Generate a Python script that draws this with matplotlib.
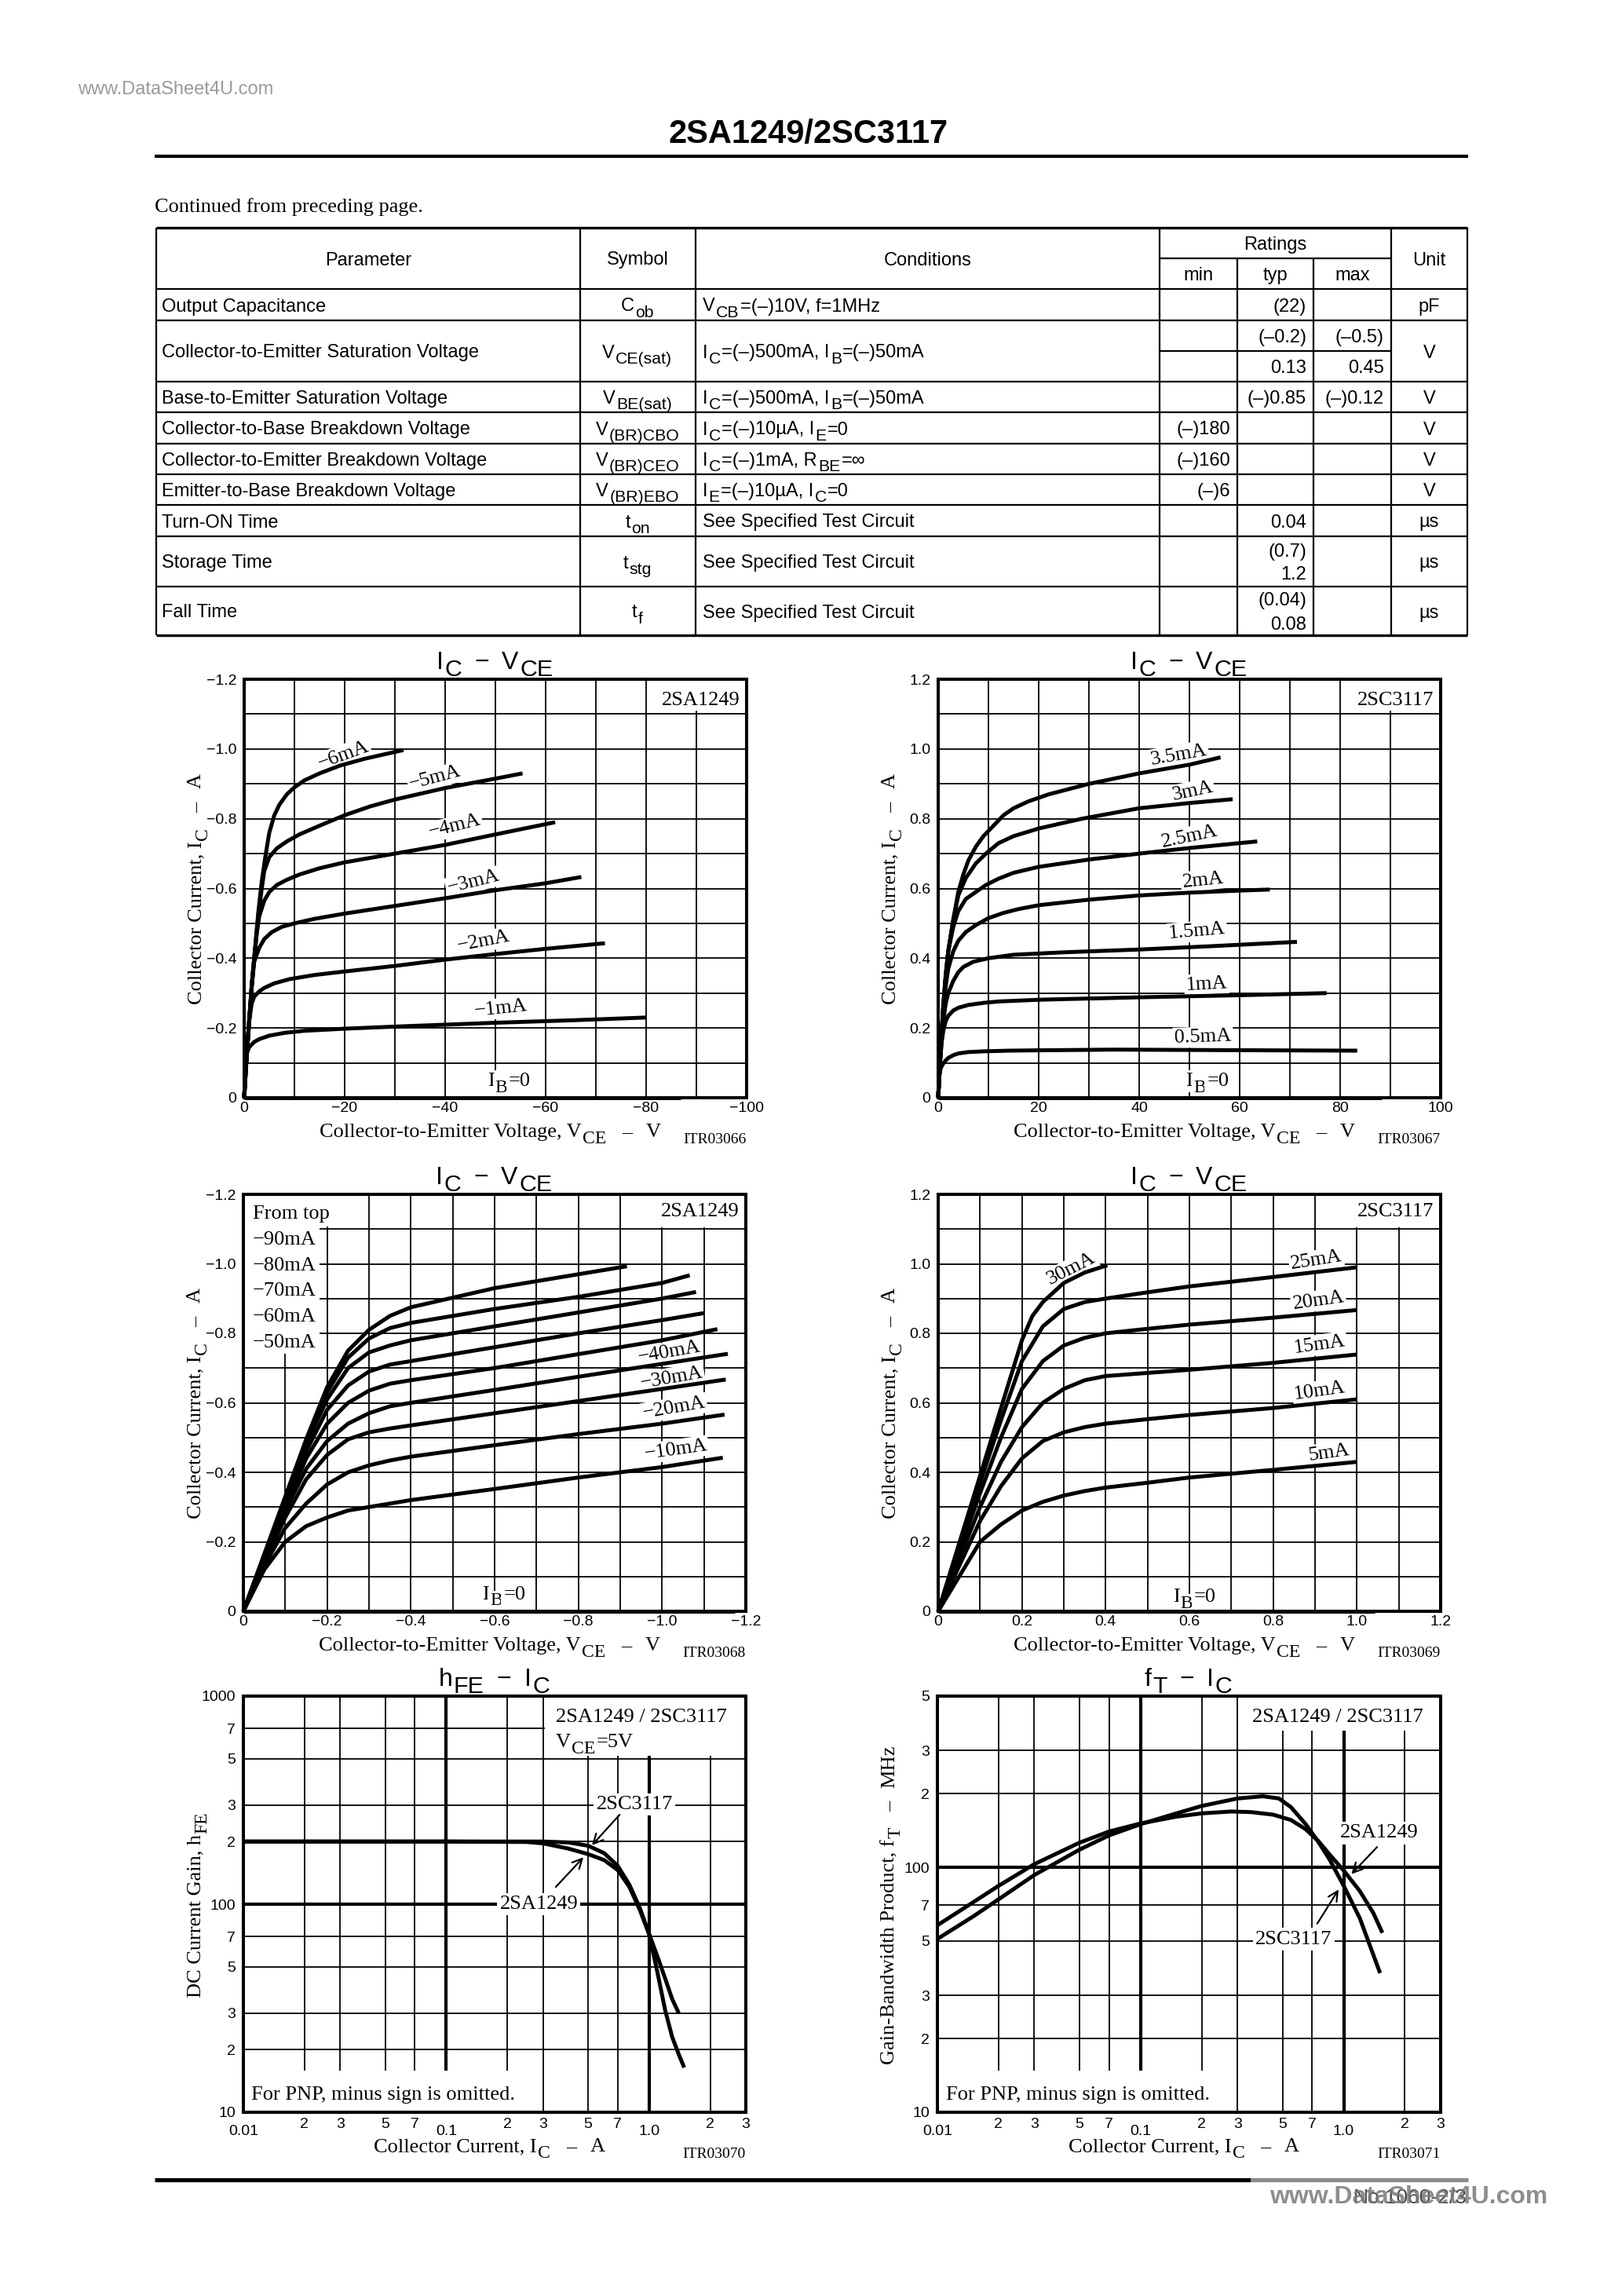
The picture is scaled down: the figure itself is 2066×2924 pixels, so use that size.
import matplotlib
matplotlib.use("Agg")
import matplotlib.pyplot as plt
import matplotlib.transforms as mtrans
from matplotlib.lines import Line2D
from matplotlib.patches import Rectangle

W, H = 2066, 2924
SANS = ["Liberation Sans", "DejaVu Sans"]
SERIF = ["Liberation Serif", "DejaVu Serif"]
plt.rcParams["font.family"] = SANS

# ---------------- table data ----------------
tbl_param = ["Output Capacitance", "Collector-to-Emitter Saturation Voltage",
             "Base-to-Emitter Saturation Voltage", "Collector-to-Base Breakdown Voltage",
             "Collector-to-Emitter Breakdown Voltage", "Emitter-to-Base Breakdown Voltage",
             "Turn-ON Time", "Storage Time", "Fall Time"]
tbl_symbol = [["C", "_ob"], ["V", "_CE(sat)"], ["V", "_BE(sat)"], ["V", "_(BR)CBO"],
              ["V", "_(BR)CEO"], ["V", "_(BR)EBO"], ["t", "_on"], ["t", "_stg"], ["t", "_f"]]
tbl_cond = [["V", "_CB", "=(–)10V, f=1MHz"],
            ["I", "_C", "=(–)500mA, I", "_B", "=(–)50mA"],
            ["I", "_C", "=(–)500mA, I", "_B", "=(–)50mA"],
            ["I", "_C", "=(–)10µA, I", "_E", "=0"],
            ["I", "_C", "=(–)1mA, R", "_BE", "=∞"],
            ["I", "_E", "=(–)10µA, I", "_C", "=0"],
            ["See Specified Test Circuit"], ["See Specified Test Circuit"],
            ["See Specified Test Circuit"]]
tbl_min = ["", "", "", "(–)180", "(–)160", "(–)6", "", "", ""]
tbl_typ = ["(22)", ["(–0.2)", "0.13"], "(–)0.85", "", "", "", "0.04",
           ["(0.7)", "1.2"], ["(0.04)", "0.08"]]
tbl_max = ["", ["(–0.5)", "0.45"], "(–)0.12", "", "", "", "", "", ""]
tbl_unit = ["pF", "V", "V", "V", "V", "V", "µs", "µs", "µs"]

# ---------------- IC-VCE 2SA1249 (large) ----------------
tl_xticks = [0, -10, -20, -30, -40, -50, -60, -70, -80, -90, -100]
tl_xlabels = ["0", "", "−20", "", "−40", "", "−60", "", "−80", "", "−100"]
neg_yticks = [0, -0.1, -0.2, -0.3, -0.4, -0.5, -0.6, -0.7, -0.8, -0.9, -1.0, -1.1, -1.2]
neg_ylabels = ["0", "", "−0.2", "", "−0.4", "", "−0.6", "", "−0.8", "", "−1.0", "", "−1.2"]

tl_v6 = [0, -0.5, -1, -1.5, -2, -2.8, -3.5, -4.2, -5, -6, -7, -8.5, -10, -12, -15, -19, -24, -28, -31.7]
tl_i6 = [0, -0.12, -0.22, -0.32, -0.40, -0.53, -0.62, -0.69, -0.76, -0.81, -0.84, -0.87, -0.89,
         -0.91, -0.93, -0.952, -0.972, -0.985, -0.997]
tl_v5 = [0, -0.5, -1, -1.5, -2, -2.8, -3.5, -4, -5, -6.5, -8.5, -11, -15, -20, -25, -30, -40, -50, -55.4]
tl_i5 = [0, -0.12, -0.22, -0.32, -0.40, -0.52, -0.60, -0.65, -0.69, -0.715, -0.735, -0.755, -0.78,
         -0.81, -0.835, -0.855, -0.888, -0.915, -0.93]
tl_v4 = [0, -0.5, -1, -1.5, -2, -2.5, -3, -4, -5, -6.5, -8.5, -11, -15, -20, -30, -40, -50, -61.9]
tl_i4 = [0, -0.12, -0.22, -0.32, -0.40, -0.47, -0.52, -0.565, -0.59, -0.61, -0.625, -0.64, -0.658,
         -0.675, -0.70, -0.725, -0.755, -0.79]
tl_v3 = [0, -0.5, -1, -1.5, -2, -3, -4, -5.5, -7.5, -10, -14, -20, -30, -40, -50, -60, -67.1]
tl_i3 = [0, -0.12, -0.22, -0.32, -0.39, -0.43, -0.455, -0.475, -0.49, -0.50, -0.513, -0.528, -0.55,
         -0.572, -0.595, -0.615, -0.633]
tl_v2 = [0, -0.5, -1, -1.5, -2, -3, -4, -6, -9, -14, -20, -30, -40, -50, -60, -71.8]
tl_i2 = [0, -0.12, -0.22, -0.27, -0.29, -0.305, -0.315, -0.328, -0.34, -0.352, -0.362, -0.378,
         -0.396, -0.412, -0.427, -0.443]
tl_v1 = [0, -0.3, -0.6, -1, -2, -3, -5, -8, -12, -20, -30, -50, -65, -80]
tl_i1 = [0, -0.09, -0.13, -0.145, -0.16, -0.168, -0.178, -0.186, -0.192, -0.198, -0.204, -0.215,
         -0.222, -0.23]
tl_v0 = [0, -86.8]
tl_i0 = [0, 0]
tl_lab_text = ["−6mA", "−5mA", "−4mA", "−3mA", "−2mA", "−1mA"]
tl_lab_x = [-19.7, -38.0, -41.9, -45.6, -47.6, -51.0]
tl_lab_y = [-0.983, -0.917, -0.778, -0.619, -0.448, -0.256]
tl_lab_rot = [20, 15, 14, 14, 11, 6]

# ---------------- IC-VCE 2SC3117 (large) ----------------
tr_xticks = [0, 10, 20, 30, 40, 50, 60, 70, 80, 90, 100]
tr_xlabels = ["0", "", "20", "", "40", "", "60", "", "80", "", "100"]
pos_yticks = [0, 0.1, 0.2, 0.3, 0.4, 0.5, 0.6, 0.7, 0.8, 0.9, 1.0, 1.1, 1.2]
pos_ylabels = ["0", "", "0.2", "", "0.4", "", "0.6", "", "0.8", "", "1.0", "", "1.2"]

tr_v35 = [0, 0.5, 1, 1.5, 2, 3, 4, 5, 6, 7.5, 9, 11, 13, 15, 18, 22, 26, 30, 40, 50, 56.2]
tr_i35 = [0, 0.14, 0.26, 0.35, 0.42, 0.51, 0.59, 0.64, 0.68, 0.72, 0.75, 0.78, 0.81, 0.83, 0.85,
          0.87, 0.885, 0.90, 0.93, 0.955, 0.976]
tr_v30 = [0, 0.5, 1, 1.5, 2, 3, 4, 5.5, 7.5, 9.5, 12, 15, 20, 28.6, 40, 50, 58.6]
tr_i30 = [0, 0.14, 0.26, 0.35, 0.42, 0.51, 0.58, 0.63, 0.672, 0.70, 0.73, 0.75, 0.772, 0.80, 0.83,
          0.845, 0.856]
tr_v25 = [0, 0.5, 1, 1.5, 2, 3, 4, 5.5, 7.5, 9.5, 12, 15, 20, 30, 40, 50, 63.5]
tr_i25 = [0, 0.14, 0.26, 0.35, 0.42, 0.49, 0.535, 0.57, 0.59, 0.61, 0.628, 0.645, 0.662, 0.683,
          0.70, 0.716, 0.735]
tr_v20 = [0, 0.5, 1, 1.5, 2, 3, 4, 5.5, 7.5, 10, 13, 16, 20, 30, 40, 50, 60, 66]
tr_i20 = [0, 0.14, 0.25, 0.32, 0.37, 0.42, 0.45, 0.475, 0.495, 0.515, 0.53, 0.541, 0.552, 0.568,
          0.58, 0.588, 0.594, 0.597]
tr_v15 = [0, 0.5, 1, 1.5, 2, 3, 4, 5, 7, 10, 15, 25, 40, 55, 71.4]
tr_i15 = [0, 0.13, 0.22, 0.27, 0.30, 0.335, 0.36, 0.375, 0.39, 0.40, 0.41, 0.417, 0.425, 0.435, 0.447]
tr_v10 = [0, 0.3, 0.7, 1, 1.5, 2, 3, 4, 6, 9, 12, 20, 40, 60, 77.3]
tr_i10 = [0, 0.09, 0.16, 0.19, 0.22, 0.235, 0.25, 0.258, 0.266, 0.272, 0.276, 0.281, 0.288, 0.294, 0.30]
tr_v05 = [0, 0.2, 0.5, 1, 1.5, 2, 3, 4, 6, 9, 14, 20, 35, 50, 65, 83.4]
tr_i05 = [0, 0.06, 0.085, 0.098, 0.107, 0.114, 0.122, 0.127, 0.131, 0.133, 0.135, 0.136, 0.138,
          0.137, 0.136, 0.135]
tr_v0 = [0, 88.3]
tr_i0 = [0, 0]
tr_lab_text = ["3.5mA", "3mA", "2.5mA", "2mA", "1.5mA", "1mA", "0.5mA"]
tr_lab_x = [47.9, 50.6, 50.0, 52.7, 51.5, 53.4, 52.7]
tr_lab_y = [0.983, 0.878, 0.748, 0.624, 0.477, 0.326, 0.174]
tr_lab_rot = [10, 12, 12, 6, 5, 3, 2]

# ---------------- IC-VCE 2SA1249 (saturation) ----------------
ml_xticks = [0, -0.1, -0.2, -0.3, -0.4, -0.5, -0.6, -0.7, -0.8, -0.9, -1.0, -1.1, -1.2]
ml_xlabels = ["0", "", "−0.2", "", "−0.4", "", "−0.6", "", "−0.8", "", "−1.0", "", "−1.2"]
ml_v = [0, -0.05, -0.1, -0.15, -0.2, -0.25, -0.3, -0.35, -0.4, -0.6, -0.8, -1.0]
ml_i90 = [0, -0.165, -0.33, -0.495, -0.645, -0.75, -0.81, -0.85, -0.875, -0.93, -0.97]
ml_v90_end, ml_i90_end = -0.916, -0.993
ml_i80 = [0, -0.16, -0.325, -0.49, -0.63, -0.73, -0.785, -0.815, -0.83, -0.87, -0.905, -0.945]
ml_v80_end, ml_i80_end = -1.066, -0.967
ml_i70 = [0, -0.16, -0.32, -0.48, -0.61, -0.70, -0.745, -0.765, -0.78, -0.82, -0.86, -0.90]
ml_v70_end, ml_i70_end = -1.081, -0.919
ml_i60 = [0, -0.16, -0.31, -0.46, -0.58, -0.65, -0.69, -0.71, -0.72, -0.76, -0.80, -0.838]
ml_v60_end, ml_i60_end = -1.099, -0.858
ml_i50 = [0, -0.155, -0.30, -0.44, -0.54, -0.60, -0.635, -0.655, -0.665, -0.70, -0.74, -0.78]
ml_v50_end, ml_i50_end = -1.132, -0.812
ml_i40 = [0, -0.15, -0.29, -0.41, -0.49, -0.54, -0.57, -0.59, -0.60, -0.637, -0.675, -0.712]
ml_v40_end, ml_i40_end = -1.157, -0.741
ml_i30 = [0, -0.14, -0.27, -0.38, -0.45, -0.495, -0.515, -0.526, -0.535, -0.57, -0.605, -0.64]
ml_v30_end, ml_i30_end = -1.152, -0.667
ml_i20 = [0, -0.13, -0.24, -0.31, -0.365, -0.40, -0.42, -0.434, -0.445, -0.478, -0.51, -0.54]
ml_v20_end, ml_i20_end = -1.149, -0.566
ml_i10 = [0, -0.12, -0.20, -0.245, -0.27, -0.29, -0.30, -0.31, -0.32, -0.352, -0.385, -0.415]
ml_v10_end, ml_i10_end = -1.145, -0.442
ml_v0 = [0, -1.173]
ml_i0 = [0, 0]
ml_from_top = ["From top", "−90mA", "−80mA", "−70mA", "−60mA", "−50mA"]
ml_lab_text = ["−40mA", "−30mA", "−20mA", "−10mA"]
ml_lab_x = [-1.017, -1.022, -1.028, -1.032]
ml_lab_y = [-0.746, -0.672, -0.585, -0.465]
ml_lab_rot = [10, 10, 10, 8]

# ---------------- IC-VCE 2SC3117 (saturation) ----------------
mr_xticks = [0, 0.1, 0.2, 0.3, 0.4, 0.5, 0.6, 0.7, 0.8, 0.9, 1.0, 1.1, 1.2]
mr_xlabels = ["0", "", "0.2", "", "0.4", "", "0.6", "", "0.8", "", "1.0", "", "1.2"]
mr_v30 = [0, 0.1, 0.2, 0.225, 0.25, 0.3, 0.35, 0.404]
mr_i30 = [0, 0.39, 0.78, 0.85, 0.89, 0.945, 0.975, 0.996]
mr_v = [0, 0.1, 0.15, 0.2, 0.25, 0.3, 0.35, 0.4, 0.5, 0.6, 0.8, 1.0]
mr_i25 = [0, 0.37, 0.55, 0.72, 0.82, 0.87, 0.89, 0.90, 0.918, 0.935, 0.962, 0.99]
mr_i20 = [0, 0.34, 0.50, 0.64, 0.72, 0.765, 0.787, 0.80, 0.813, 0.825, 0.845, 0.867]
mr_i15 = [0, 0.30, 0.43, 0.53, 0.60, 0.64, 0.665, 0.677, 0.686, 0.695, 0.715, 0.739]
mr_i10 = [0, 0.26, 0.36, 0.44, 0.49, 0.515, 0.53, 0.54, 0.553, 0.565, 0.585, 0.61]
mr_i05 = [0, 0.20, 0.25, 0.29, 0.315, 0.333, 0.346, 0.356, 0.37, 0.385, 0.407, 0.43]
mr_v0 = [0, 1.042]
mr_i0 = [0, 0]
mr_lab_text = ["30mA", "25mA", "20mA", "15mA", "10mA", "5mA"]
mr_lab_x = [0.318, 0.903, 0.908, 0.911, 0.911, 0.933]
mr_lab_y = [0.986, 1.01, 0.894, 0.767, 0.634, 0.456]
mr_lab_rot = [27, 9, 8, 8, 8, 8]

# ---------------- hFE - IC ----------------
log_xticks = [0.01, 0.02, 0.03, 0.05, 0.07, 0.1, 0.2, 0.3, 0.5, 0.7, 1.0, 2, 3]
log_xlabels = ["0.01", "2", "3", "5", "7", "0.1", "2", "3", "5", "7", "1.0", "2", "3"]
bl_yticks = [10, 20, 30, 50, 70, 100, 200, 300, 500, 700, 1000]
bl_ylabels = ["10", "2", "3", "5", "7", "100", "2", "3", "5", "7", "1000"]
hfe_ic_3117 = [0.01, 0.1, 0.3, 0.4, 0.5, 0.6, 0.7, 0.8, 0.9, 1.0, 1.1, 1.2, 1.3, 1.4, 1.49]
hfe_3117 = [200, 200, 200, 198, 191, 176, 153, 124, 96, 72, 47, 31, 23, 19, 16.4]
hfe_ic_1249 = [0.01, 0.1, 0.25, 0.3, 0.4, 0.5, 0.6, 0.7, 0.8, 0.9, 1.0, 1.1, 1.2, 1.3, 1.4]
hfe_1249 = [200, 200, 199, 196, 185, 174, 163, 146, 121, 94, 72, 56, 44, 35, 30]

# ---------------- fT - IC ----------------
br_yticks = [10, 20, 30, 50, 70, 100, 200, 300, 500]
br_ylabels = ["10", "2", "3", "5", "7", "100", "2", "3", "5"]
ft_ic_1249 = [0.01, 0.015, 0.02, 0.03, 0.05, 0.07, 0.1, 0.15, 0.2, 0.28, 0.35, 0.45, 0.55, 0.65,
              0.75, 0.85, 1.0, 1.2, 1.4, 1.55]
ft_1249 = [58, 72, 84, 103, 126, 140, 151, 161, 166, 169, 168, 164, 156, 143, 128, 113, 97, 80, 65, 54]
ft_ic_3117 = [0.01, 0.015, 0.02, 0.03, 0.05, 0.07, 0.1, 0.15, 0.2, 0.3, 0.4, 0.48, 0.55, 0.65,
              0.75, 0.85, 1.0, 1.2, 1.51]
ft_3117 = [51, 63, 74, 93, 118, 135, 150, 166, 178, 191, 195, 191, 176, 150, 127, 108, 84, 62, 37]

# ---------------------------------------------------------------
fig = plt.figure(figsize=(W / 100, H / 100), dpi=100)
fig.patch.set_facecolor("white")
renderer = fig.canvas.get_renderer()
PAGE = mtrans.Affine2D().scale(1, -1).translate(0, H)   # pixel coords, origin top-left

CURVE_LW = 3.6
GRID_LW = 1.3


def rich(host, x, y, parts, size, family=SERIF, ha="left", rot=0, sub=0.9, drop=0.3,
         color="black", weight="normal", zorder=3, bg=False):
    """text runs with lowered subscripts ('_xx'); numbers are gaps in em"""
    em = size * 100 / 72
    placed = []
    for p in parts:
        if not isinstance(p, str):
            placed.append((None, p * em, False))
            continue
        low = p.startswith("_")
        s = p[1:] if low else p
        kw = dict(fontsize=size * (sub if low else 1), family=family, color=color,
                  weight=weight, ha="left", va="baseline", rotation=rot,
                  rotation_mode="anchor", transform=PAGE, zorder=zorder)
        if bg:
            kw["bbox"] = dict(boxstyle="square,pad=0.12", fc="white", ec="none")
        t = host.text(0, 0, s, **kw)
        ext = t.get_window_extent(renderer)
        placed.append((t, (ext.height if rot else ext.width) + 0.05 * em, low))
    total = sum(w for _, w, _ in placed)
    acc = {"left": 0.0, "center": -total / 2, "right": -total}[ha]
    for t, w, low in placed:
        if t is not None:
            d = drop * em if low else 0.0
            if rot:
                t.set_position((x + d, y - acc))
            else:
                t.set_position((x + acc, y + d))
        acc += w


def ptext(host, x, y, s, size, family=SERIF, ha="left", color="black", weight="normal", zorder=3):
    host.text(x, y, s, fontsize=size, family=family, ha=ha, va="baseline", color=color,
              weight=weight, transform=PAGE, zorder=zorder)


def hline(y, x0, x1, lw=1.5, color="black"):
    fig.add_artist(Line2D([x0, x1], [y, y], transform=PAGE, color=color, lw=lw,
                          solid_capstyle="butt"))


def vline(x, y0, y1, lw=1.5):
    fig.add_artist(Line2D([x, x], [y0, y1], transform=PAGE, color="black", lw=lw,
                          solid_capstyle="butt"))


def white_box(ax, l, t, r, b):
    ax.add_patch(Rectangle((l, t), r - l, b - t, transform=PAGE, fc="white", ec="none",
                           zorder=2.2))


def dpx(ax, x, y):
    X, Y = ax.transData.transform((x, y))
    return X, H - Y


def make_axes(box, title, xlab, ylab, code):
    l, t, r, b = box
    ax = fig.add_axes([l / W, 1 - b / H, (r - l) / W, (b - t) / H])
    for s in ax.spines.values():
        s.set_linewidth(2.9)
        s.set_zorder(5)
    ax.tick_params(length=0, labelsize=14)
    ax.tick_params(axis="x", pad=3.5)
    ax.tick_params(axis="y", pad=7)
    ax.grid(True, color="black", lw=GRID_LW)
    rich(fig, (l + r) / 2, t - 13, title, 23, SANS, "center", sub=0.95, drop=0.27)
    rich(fig, (l + r) / 2 - 6, b + 50, xlab, 19, SERIF, "center")
    ptext(fig, r, b + 58, code, 14, ha="right")
    rich(fig, l - 55, (t + b) / 2, ylab, 19, SERIF, "center", rot=90)
    return ax


def curve(ax, x, y):
    ax.plot(x, y, color="black", lw=CURVE_LW, solid_capstyle="butt",
            solid_joinstyle="round", zorder=4, clip_on=False)


def curve_labels(ax, xs, ys, texts, rots):
    for x, y, s, r in zip(xs, ys, texts, rots):
        ax.text(x, y, s, fontsize=19, family=SERIF, rotation=r, rotation_mode="anchor",
                ha="center", va="center", zorder=3,
                bbox=dict(boxstyle="square,pad=0.08", fc="white", ec="none"))


def ib0(ax, x, y):
    X, Y = dpx(ax, x, y)
    rich(ax, X, Y, ["I", "_B", "=0"], 19, SERIF, "center", bg=True)


TITLE_IC = ["I", "_C", 0.45, "−", 0.45, "V", "_CE"]
XLAB_VCE = ["Collector-to-Emitter Voltage, V", "_CE", 0.7, "–", 0.6, "V"]
YLAB_IC = ["Collector Current, I", "_C", 0.7, "–", 0.6, "A"]
XLAB_IC = ["Collector Current, I", "_C", 0.7, "–", 0.6, "A"]

# ---------------- page header ----------------
ptext(fig, 99, 120, "www.DataSheet4U.com", 17, SANS, color="#9a9a9a")
ptext(fig, 1030, 182, "2SA1249/2SC3117", 30, SANS, ha="center", weight="bold")
hline(199, 197, 1870, lw=3.0)
ptext(fig, 197, 270, "Continued from preceding page.", 19, SERIF)

# ---------------- table ----------------
COLS = [199, 739, 886, 1477, 1576, 1673, 1772, 1869]
ROWS = [290, 368, 408, 486, 525, 565, 604, 643, 683, 747, 809]
HEAD_SPLIT, VSAT_SPLIT = 329, 447
TS = 17
BASE = 0.36 * TS * 100 / 72

hline(ROWS[0], COLS[0], COLS[-1], lw=2.4)
hline(ROWS[-1], COLS[0], COLS[-1], lw=2.4)
for yy in ROWS[1:-1]:
    hline(yy, COLS[0], COLS[-1], lw=1.6)
hline(HEAD_SPLIT, COLS[3], COLS[6], lw=1.6)
hline(VSAT_SPLIT, COLS[3], COLS[6], lw=1.6)
for xx in [COLS[0], COLS[1], COLS[2], COLS[3], COLS[6], COLS[7]]:
    vline(xx, ROWS[0], ROWS[-1], lw=1.6)
for xx in [COLS[4], COLS[5]]:
    vline(xx, HEAD_SPLIT, ROWS[-1], lw=1.6)

hc = (ROWS[0] + ROWS[1]) / 2
ptext(fig, (COLS[0] + COLS[1]) / 2, hc + BASE, "Parameter", TS, SANS, ha="center")
ptext(fig, (COLS[1] + COLS[2]) / 2, hc + BASE, "Symbol", TS, SANS, ha="center")
ptext(fig, (COLS[2] + COLS[3]) / 2, hc + BASE, "Conditions", TS, SANS, ha="center")
ptext(fig, (COLS[6] + COLS[7]) / 2, hc + BASE, "Unit", TS, SANS, ha="center")
ptext(fig, (COLS[3] + COLS[6]) / 2, (ROWS[0] + HEAD_SPLIT) / 2 + BASE, "Ratings", TS, SANS, ha="center")
for k, name in enumerate(["min", "typ", "max"]):
    ptext(fig, (COLS[3 + k] + COLS[4 + k]) / 2, (HEAD_SPLIT + ROWS[1]) / 2 + BASE, name, TS, SANS,
          ha="center")

for i in range(len(tbl_param)):
    y0, y1 = ROWS[i + 1], ROWS[i + 2]
    yc = (y0 + y1) / 2
    ptext(fig, COLS[0] + 7, yc + BASE, tbl_param[i], TS, SANS)
    rich(fig, (COLS[1] + COLS[2]) / 2, yc + BASE, tbl_symbol[i], TS, SANS, "center")
    rich(fig, COLS[2] + 9, yc + BASE, tbl_cond[i], TS, SANS)
    ptext(fig, (COLS[6] + COLS[7]) / 2, yc + BASE, tbl_unit[i], TS, SANS, ha="center")
    for col, vals in ((3, tbl_min), (4, tbl_typ), (5, tbl_max)):
        v = vals[i]
        xr = COLS[col + 1] - 9
        if isinstance(v, list):
            if i == 1:
                ptext(fig, xr, (y0 + VSAT_SPLIT) / 2 + BASE, v[0], TS, SANS, ha="right")
                ptext(fig, xr, (VSAT_SPLIT + y1) / 2 + BASE, v[1], TS, SANS, ha="right")
            else:
                ptext(fig, xr, yc - 15 + BASE, v[0], TS, SANS, ha="right")
                ptext(fig, xr, yc + 15 + BASE, v[1], TS, SANS, ha="right")
        elif v:
            ptext(fig, xr, yc + BASE, v, TS, SANS, ha="right")

# ---------------- plots ----------------
BOX_TL = (311, 865, 951, 1398)
BOX_TR = (1195, 865, 1835, 1398)
BOX_ML = (310, 1521, 950, 2052)
BOX_MR = (1195, 1521, 1835, 2052)
BOX_BL = (310, 2160, 950, 2690)
BOX_BR = (1194, 2160, 1835, 2690)

# top-left
ax = make_axes(BOX_TL, TITLE_IC, XLAB_VCE, YLAB_IC, "ITR03066")
ax.set_xlim(0, -100); ax.set_ylim(0, -1.2)
ax.set_xticks(tl_xticks, labels=tl_xlabels)
ax.set_yticks(neg_yticks, labels=neg_ylabels)
for xv, yv in [(tl_v6, tl_i6), (tl_v5, tl_i5), (tl_v4, tl_i4), (tl_v3, tl_i3),
               (tl_v2, tl_i2), (tl_v1, tl_i1), (tl_v0, tl_i0)]:
    curve(ax, xv, yv)
curve_labels(ax, tl_lab_x, tl_lab_y, tl_lab_text, tl_lab_rot)
ib0(ax, -52.8, -0.034)
white_box(ax, 830, 865, 951, 905)
ptext(ax, 943, 898, "2SA1249", 19, ha="right")

# top-right
ax = make_axes(BOX_TR, TITLE_IC, XLAB_VCE, YLAB_IC, "ITR03067")
ax.set_xlim(0, 100); ax.set_ylim(0, 1.2)
ax.set_xticks(tr_xticks, labels=tr_xlabels)
ax.set_yticks(pos_yticks, labels=pos_ylabels)
for xv, yv in [(tr_v35, tr_i35), (tr_v30, tr_i30), (tr_v25, tr_i25), (tr_v20, tr_i20),
               (tr_v15, tr_i15), (tr_v10, tr_i10), (tr_v05, tr_i05), (tr_v0, tr_i0)]:
    curve(ax, xv, yv)
curve_labels(ax, tr_lab_x, tr_lab_y, tr_lab_text, tr_lab_rot)
ib0(ax, 53.7, 0.034)
white_box(ax, 1714, 865, 1835, 905)
ptext(ax, 1826, 898, "2SC3117", 19, ha="right")

# middle-left
ax = make_axes(BOX_ML, TITLE_IC, XLAB_VCE, YLAB_IC, "ITR03068")
ax.set_xlim(0, -1.2); ax.set_ylim(0, -1.2)
ax.set_xticks(ml_xticks, labels=ml_xlabels)
ax.set_yticks(neg_yticks, labels=neg_ylabels)
for iv, ve, ie in [(ml_i90, ml_v90_end, ml_i90_end), (ml_i80, ml_v80_end, ml_i80_end),
                   (ml_i70, ml_v70_end, ml_i70_end), (ml_i60, ml_v60_end, ml_i60_end),
                   (ml_i50, ml_v50_end, ml_i50_end), (ml_i40, ml_v40_end, ml_i40_end),
                   (ml_i30, ml_v30_end, ml_i30_end), (ml_i20, ml_v20_end, ml_i20_end),
                   (ml_i10, ml_v10_end, ml_i10_end)]:
    n = len(iv)
    vv = [v for v in ml_v[:n] if v > ve] + [ve]
    curve(ax, vv, iv[:len(vv) - 1] + [ie])
curve(ax, ml_v0, ml_i0)
curve_labels(ax, ml_lab_x, ml_lab_y, ml_lab_text, ml_lab_rot)
ib0(ax, -0.623, -0.035)
white_box(ax, 310, 1521, 407, 1724)
white_box(ax, 310, 1521, 432, 1562)
for k, s in enumerate(ml_from_top):
    ptext(ax, 322, 1552 + k * 32.8, s, 19)
white_box(ax, 830, 1521, 950, 1563)
ptext(ax, 942, 1549, "2SA1249", 19, ha="right")

# middle-right
ax = make_axes(BOX_MR, TITLE_IC, XLAB_VCE, YLAB_IC, "ITR03069")
ax.set_xlim(0, 1.2); ax.set_ylim(0, 1.2)
ax.set_xticks(mr_xticks, labels=mr_xlabels)
ax.set_yticks(pos_yticks, labels=pos_ylabels)
curve(ax, mr_v30, mr_i30)
for iv in [mr_i25, mr_i20, mr_i15, mr_i10, mr_i05]:
    curve(ax, mr_v, iv)
curve(ax, mr_v0, mr_i0)
curve_labels(ax, mr_lab_x, mr_lab_y, mr_lab_text, mr_lab_rot)
ib0(ax, 0.613, 0.026)
white_box(ax, 1714, 1521, 1835, 1563)
ptext(ax, 1826, 1549, "2SC3117", 19, ha="right")


def log_axes(box, title, ylab, code, yticks, ylabels, ytop):
    ax = make_axes(box, title, XLAB_IC, ylab, code)
    ax.set_xscale("log"); ax.set_yscale("log")
    ax.set_xlim(0.01, 3); ax.set_ylim(10, ytop)
    ax.set_xticks(log_xticks, labels=[""] * len(log_xticks))
    ax.set_xticks([], minor=True)
    ax.set_yticks(yticks, labels=ylabels)
    ax.set_yticks([], minor=True)
    for v in (0.1, 1.0):
        ax.axvline(v, color="black", lw=3.0, zorder=1.6)
    ax.axhline(100, color="black", lw=3.0, zorder=1.6)
    for v, s in zip(log_xticks, log_xlabels):
        off = 16 if "." in s else 7
        ax.annotate(s, xy=(v, 0), xycoords=("data", "axes fraction"), xytext=(0, -off),
                    textcoords="offset pixels", ha="center", va="top", fontsize=14,
                    family=SANS, annotation_clip=False)
    return ax


def arrow(ax, xy_from, xy_to):
    ax.annotate("", xy=xy_to, xytext=xy_from,
                arrowprops=dict(arrowstyle="->", lw=1.6, mutation_scale=22,
                                shrinkA=0, shrinkB=0, color="black"), zorder=4)


def tag(ax, x, y, s):
    ax.text(x, y, s, fontsize=19, family=SERIF, ha="center", va="center", zorder=3,
            bbox=dict(boxstyle="square,pad=0.12", fc="white", ec="none"))


# bottom-left: hFE
ax = log_axes(BOX_BL, ["h", "_FE", 0.45, "−", 0.45, "I", "_C"], ["DC Current Gain, h", "_FE"],
              "ITR03070", bl_yticks, bl_ylabels, 1000)
curve(ax, hfe_ic_3117, hfe_3117)
curve(ax, hfe_ic_1249, hfe_1249)
tag(ax, 0.848, 301, "2SC3117")
arrow(ax, (0.716, 269), (0.523, 192))
tag(ax, 0.286, 100, "2SA1249")
arrow(ax, (0.347, 121), (0.475, 168))
white_box(ax, 694, 2160, 950, 2236)
ptext(ax, 708, 2193, "2SA1249 / 2SC3117", 19)
rich(ax, 708, 2225, ["V", "_CE", "=5V"], 19, SERIF)
white_box(ax, 310, 2637, 685, 2690)
ptext(ax, 320, 2674, "For PNP, minus sign is omitted.", 19)

# bottom-right: fT
ax = log_axes(BOX_BR, ["f", "_T", 0.45, "−", 0.45, "I", "_C"],
              ["Gain-Bandwidth Product, f", "_T", 0.7, "–", 0.6, "MHz"],
              "ITR03071", br_yticks, br_ylabels, 500)
curve(ax, ft_ic_1249, ft_1249)
curve(ax, ft_ic_3117, ft_3117)
tag(ax, 1.49, 138, "2SA1249")
arrow(ax, (1.46, 121), (1.09, 93.8))
tag(ax, 0.568, 50.9, "2SC3117")
arrow(ax, (0.741, 58.9), (0.944, 81.2))
white_box(ax, 1584, 2160, 1835, 2204)
ptext(ax, 1595, 2193, "2SA1249 / 2SC3117", 19)
white_box(ax, 1194, 2637, 1568, 2690)
ptext(ax, 1205, 2674, "For PNP, minus sign is omitted.", 19)

# ---------------- footer ----------------
hline(2776, 197, 1593, lw=3.8)
hline(2776, 1593, 1870, lw=3.8, color="#8c8c8c")
ptext(fig, 1869, 2806, "No.1060-2/3", 19, SANS, ha="right", color="#444444")
fig.text(1617, 2806, "www.DataSheet4U.com", fontsize=23, family=SANS, weight="bold",
         color="#7a7a7a", alpha=0.85, ha="left", va="baseline", transform=PAGE, zorder=4)

fig.savefig("out.png", dpi=100, facecolor="white")
